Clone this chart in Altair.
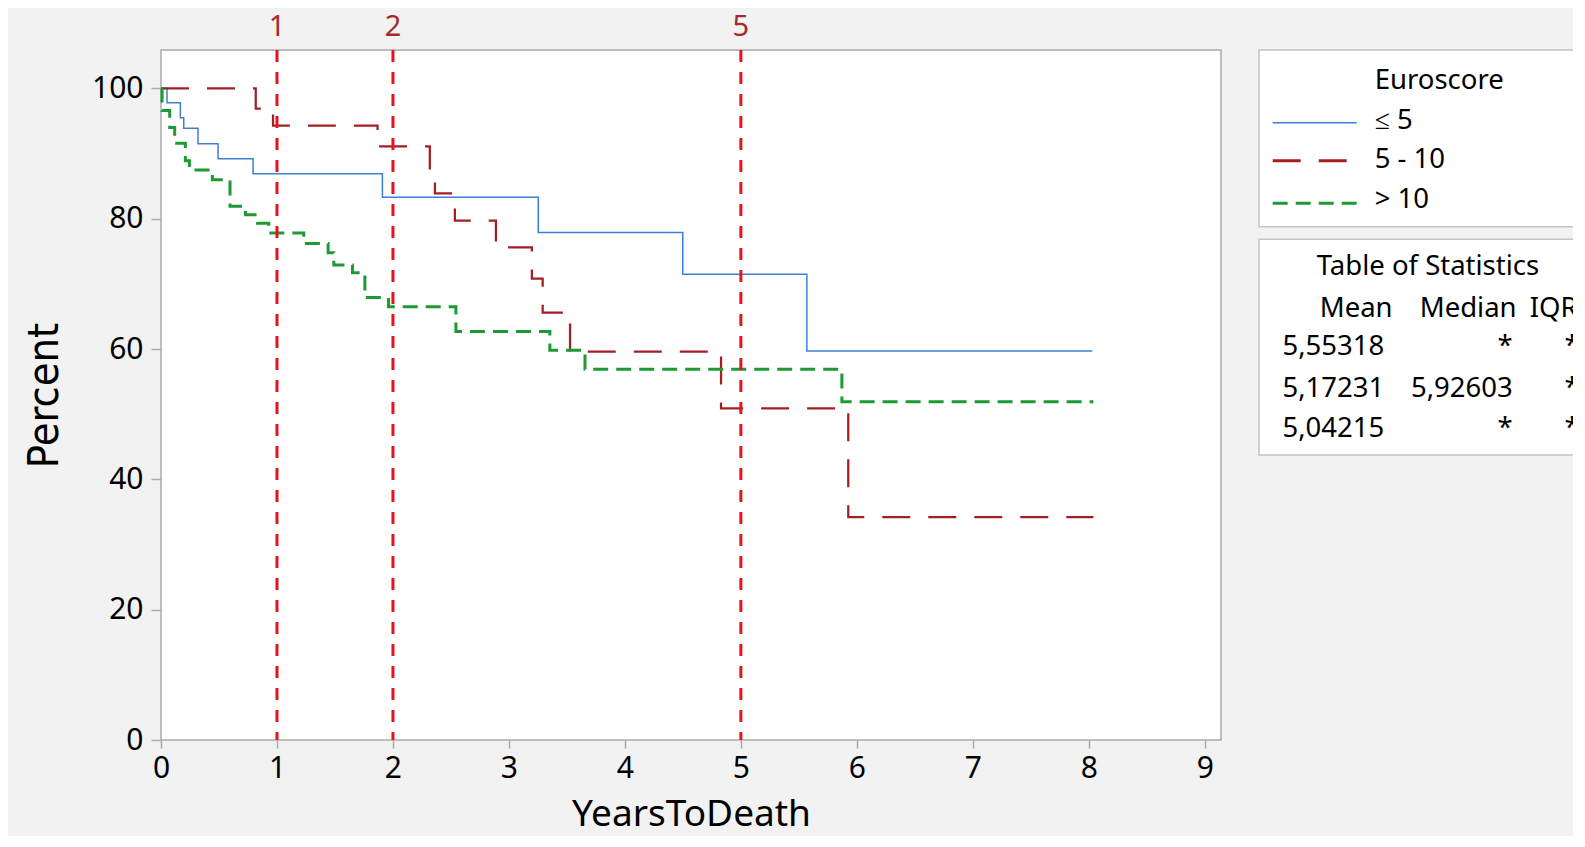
import altair as alt
import pandas as pd

# ---------------- data ----------------
groups = ["≤ 5", "5 - 10", "> 10"]

blue_t = [0, 0.052, 0.167, 0.196, 0.319, 0.492, 0.794, 1.909, 3.253, 4.499, 5.569, 8.03]
blue_s = [100, 97.8, 95.5, 93.9, 91.5, 89.2, 86.9, 83.3, 77.9, 71.5, 59.7, 59.7]

red_t = [0, 0.817, 0.966, 1.867, 2.318, 2.362, 2.534, 2.888, 3.198, 3.291, 3.527, 4.829, 5.926, 8.04]
red_s = [100, 96.9, 94.3, 91.1, 87.2, 83.9, 79.7, 75.6, 70.8, 65.6, 59.6, 50.9, 34.2, 34.2]

green_t = [0, 0.009, 0.075, 0.118, 0.21, 0.245, 0.443, 0.595, 0.728, 0.832, 0.929, 1.231,
           1.441, 1.49, 1.651, 1.758, 1.962, 2.543, 3.353, 3.656, 5.871, 8.04]
green_s = [100, 96.6, 94.0, 91.6, 88.9, 87.5, 86.0, 81.9, 80.6, 79.3, 77.8, 76.2,
           74.8, 72.9, 71.7, 67.9, 66.5, 62.7, 59.8, 56.9, 51.9, 51.9]

ref_years = [1, 2, 5]
x_ticks = [0, 1, 2, 3, 4, 5, 6, 7, 8, 9]
y_ticks = [0, 20, 40, 60, 80, 100]

stat_headers = ["Mean", "Median", "IQR"]
means = ["5,55318", "5,17231", "5,04215"]
medians = ["*", "5,92603", "*"]
iqrs = ["*", "*", "*"]

# ---------------- styles / layout ----------------
colors = ["#3E7FD6", "#A31F24", "#1E9A35"]
dashes = [[1, 0], [28, 18], [15, 8]]
widths = [1.5, 3, 3]
W, H = 1060, 690
OX, OY = 161.3, 50.0  # page position of plot origin
FONT = "Noto Sans"

rows = []
for g, ts, ss in [(groups[0], blue_t, blue_s), (groups[1], red_t, red_s), (groups[2], green_t, green_s)]:
    for t, s in zip(ts, ss):
        rows.append({"t": t, "s": s, "group": g})
df = pd.DataFrame(rows)

xscale = alt.Scale(domain=[0, 9.14], nice=False, zero=False)
yscale = alt.Scale(domain=[0, 105.9], nice=False, zero=False)

lines = alt.Chart(df).mark_line(interpolate="step-after").encode(
    x=alt.X("t:Q", scale=xscale,
            axis=alt.Axis(values=x_ticks, format="d", title="YearsToDeath", grid=False, domain=False,
                          labelFlush=False,
                          tickColor="#ABABAB", tickSize=8, tickWidth=1.5,
                          labelFont=FONT, labelFontSize=30, labelColor="black", labelPadding=5,
                          titleFont=FONT, titleFontSize=37, titleFontWeight="normal",
                          titleColor="black", titleX=W / 2, titleY=85,
                          titleBaseline="alphabetic", titleAlign="center")),
    y=alt.Y("s:Q", scale=yscale,
            axis=alt.Axis(values=y_ticks, format="d", title="Percent", grid=False, domain=False,
                          labelFlush=False,
                          tickColor="#ABABAB", tickSize=10, tickWidth=1.5,
                          labelFont=FONT, labelFontSize=30, labelColor="black", labelPadding=8,
                          titleFont="Liberation Sans Narrow, DejaVu Sans Condensed, Open Sans",
                          titleFontSize=43, titleFontWeight="normal", titleColor="black",
                          titleAngle=270, titleX=58 - OX, titleY=H / 2,
                          titleBaseline="alphabetic", titleAlign="center")),
    color=alt.Color("group:N", scale=alt.Scale(domain=groups, range=colors), legend=None),
    strokeDash=alt.StrokeDash("group:N", scale=alt.Scale(domain=groups, range=dashes), legend=None),
    strokeWidth=alt.StrokeWidth("group:N", scale=alt.Scale(domain=groups, range=widths), legend=None),
    order=alt.Order("t:Q"),
)

ref_df = pd.DataFrame({"t": ref_years, "lab": [str(v) for v in ref_years]})
ref_rules = alt.Chart(ref_df).mark_rule(color="#E8141B", strokeWidth=3, strokeDash=[12, 10]).encode(
    x=alt.X("t:Q", scale=xscale), y=alt.value(0), y2=alt.value(H)
)
ref_text = alt.Chart(ref_df).mark_text(font=FONT, fontSize=29, color="#A52A2A",
                                       baseline="alphabetic", align="center").encode(
    x=alt.X("t:Q", scale=xscale), y=alt.value(36 - OY), text="lab:N"
)

one = alt.Data(values=[{"a": 0}])


def box(y0, y1):
    return alt.Chart(one).mark_rect(fill="white", stroke="#C4C4C4", strokeWidth=1.5).encode(
        x=alt.value(1259.3 - OX), x2=alt.value(1460), y=alt.value(y0 - OY), y2=alt.value(y1 - OY)
    )


legend_box = box(50, 226.7)
table_box = box(239.3, 455)

# legend symbols
sym_y = [122.7, 160.7, 203.3]
symbols = []
for i in range(3):
    symbols.append(
        alt.Chart(one).mark_rule(color=colors[i], strokeWidth=widths[i], strokeDash=dashes[i]).encode(
            x=alt.value(1273 - OX), x2=alt.value(1357 - OX), y=alt.value(sym_y[i] - OY)
        )
    )

# texts (layout positions combined with the data arrays)
texts = [("Euroscore", 1375, 89.3, "left")]
for g, yb in zip(groups, [129.3, 168.3, 208.3]):
    texts.append((g, 1375, yb, "left"))
texts.append(("Table of Statistics", 1317, 275, "left"))
for h, xl in zip(stat_headers, [1320, 1420, 1530]):
    texts.append((h, xl, 316.7, "left"))
for m, md, q, yb in zip(means, medians, iqrs, [355, 396.7, 436.7]):
    texts.append((m, 1282.7, yb, "left"))
    texts.append((md, 1513, yb, "right"))
    texts.append((q, 1580, yb, "right"))

text_layers = []
for txt, px, py, al in texts:
    text_layers.append(
        alt.Chart(one).mark_text(text=txt, font=FONT, fontSize=27.5, color="black",
                                 align=al, baseline="alphabetic").encode(
            x=alt.value(px - OX), y=alt.value(py - OY)
        )
    )

chart = alt.layer(
    lines, ref_rules, ref_text, legend_box, table_box, *symbols, *text_layers
).properties(
    width=W, height=H,
    padding={"left": 153, "top": 42, "right": 352, "bottom": 96},
    autosize=alt.AutoSizeParams(type="none"),
    background="#F2F2F2",
).configure_view(stroke="#ABABAB", strokeWidth=1.5, fill="white")

chart.save("out.html", embed_options={"renderer": "svg", "actions": False})
